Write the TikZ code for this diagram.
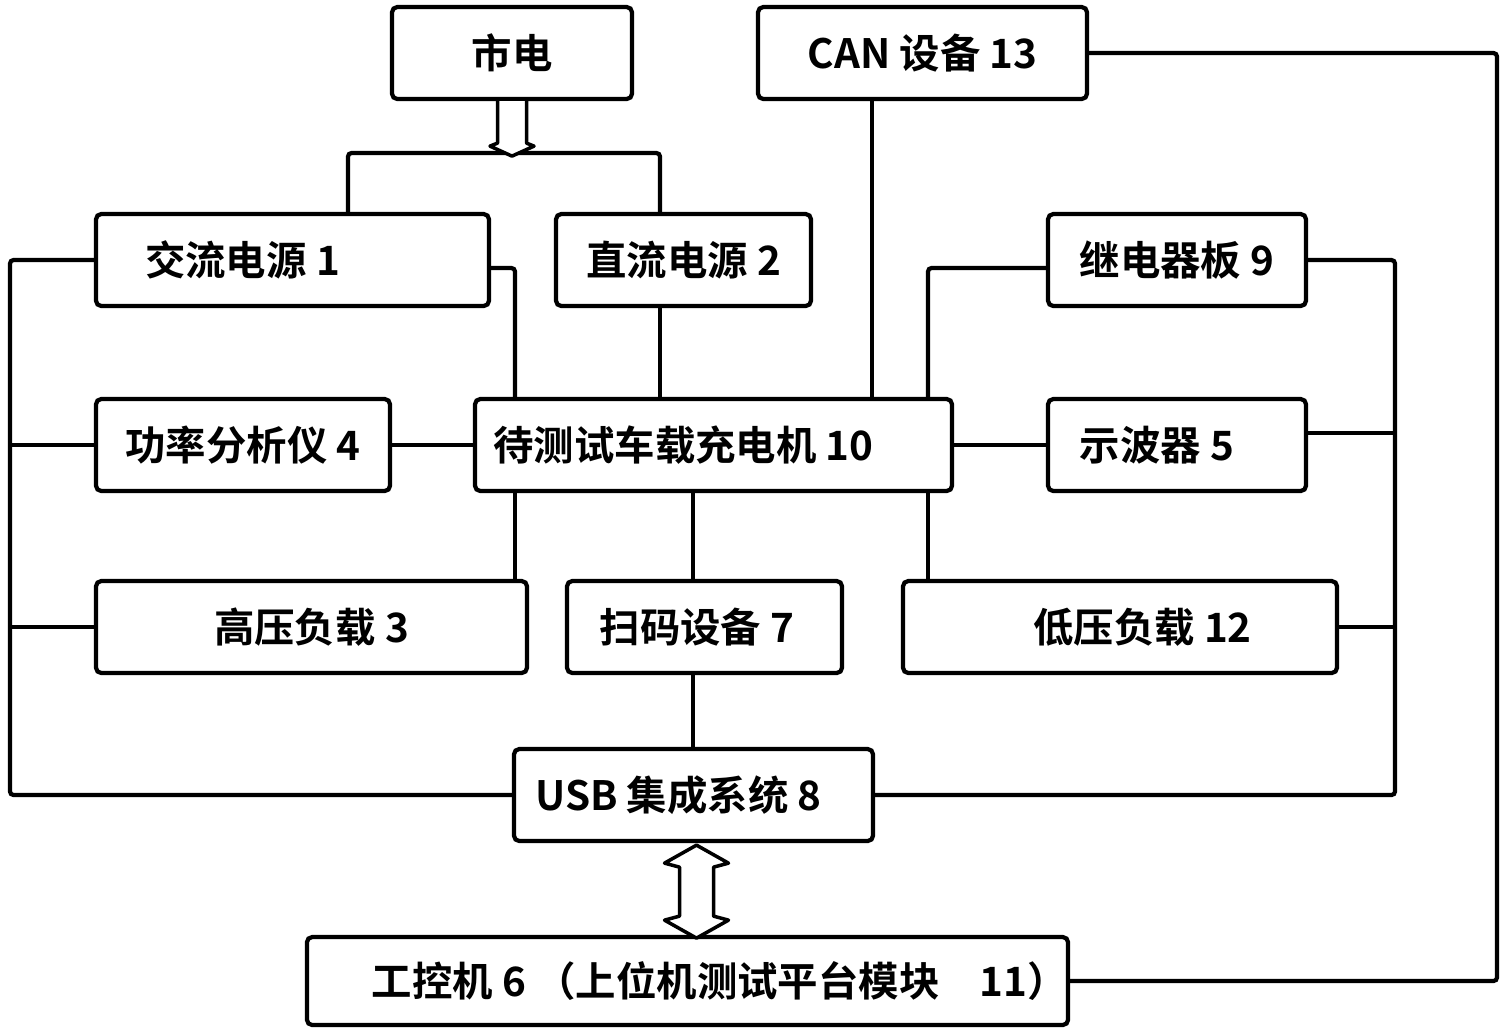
\documentclass[tikz,border=0pt]{standalone}
\usepackage{fontspec}
\setmainfont{Noto Sans CJK SC}[BoldFont={Noto Sans CJK SC Bold}]
\usetikzlibrary{calc}
\tikzset{
  blk/.style={draw, line width=1.2pt, rounded corners=1.5pt, minimum height=0.92cm, inner sep=0pt, font=\fontsize{11.5}{13}\selectfont\bfseries},
  wire/.style={line width=1.2pt, rounded corners=1pt},
  hollow/.style={line width=1pt, fill=white, line join=round}
}

\begin{document}
\begin{tikzpicture}[>=stealth]
\useasboundingbox (0,0) rectangle (15.02,-10.32);
\node[blk, minimum width=2.40cm] (mains) at (5.12,-0.53) {市电};
\node[blk, minimum width=3.29cm] (can) at (9.225,-0.53) {CAN 设备 13};
\node[blk, minimum width=3.93cm] (ac) at (2.925,-2.60) {交流电源 1\hspace*{1cm}};
\node[blk, minimum width=2.55cm] (dc) at (6.835,-2.60) {直流电源 2};
\node[blk, minimum width=2.58cm] (relay) at (11.77,-2.60) {继电器板 9};
\node[blk, minimum width=2.94cm] (pa) at (2.43,-4.45) {功率分析仪 4};
\node[blk, minimum width=4.77cm] (dut) at (7.135,-4.45) {待测试车载充电机 10\hspace*{0.6cm}};
\node[blk, minimum width=2.58cm] (osc) at (11.77,-4.45) {示波器 5\hspace*{0.4cm}};
\node[blk, minimum width=4.31cm] (hv) at (3.115,-6.27) {高压负载 3};
\node[blk, minimum width=2.75cm] (scan) at (7.045,-6.27) {扫码设备 7\hspace*{0.15cm}};
\node[blk, minimum width=4.34cm] (lv) at (11.20,-6.27) {\hspace*{0.45cm}低压负载 12};
\node[blk, minimum width=3.59cm] (usb) at (6.935,-7.95) {USB 集成系统 8\hspace*{0.3cm}};
\node[blk, minimum width=7.55cm, minimum height=0.88cm] (ipc) at (6.875,-9.81) {\hspace*{0.65cm}工控机 6 （上位机测试平台模块\quad 11）};

\coordinate (lbus) at (0.10,0);
\coordinate (rbus) at (13.95,0);
\coordinate (far) at (14.97,0);
\coordinate (c0) at (3.48,-1.53);
\coordinate (c1) at (5.15,-2.68);
\coordinate (c2) at (6.60,0);
\coordinate (c3) at (8.72,0);
\coordinate (c4) at (9.28,-2.68);
\coordinate (c5) at (6.93,0);
\coordinate (oscout) at ([yshift=0.12cm]osc.east);

% mains feed
\draw[wire] (c0 |- ac.north) -- (c0) -| (c2 |- dc.north);
\begin{scope}[shift={(mains.south)}]
\draw[hollow] (-0.145,0) -- (-0.145,-0.42) -- (-0.22,-0.45) -- (0,-0.55) -- (0.22,-0.45) -- (0.145,-0.42) -- (0.145,0);
\end{scope}

% left bus
\draw[wire] (ac.west) -| (lbus |- usb.west) -- (usb.west);
\draw[wire] (pa.west) -- (lbus |- pa.west);
\draw[wire] (hv.west) -- (lbus |- hv.west);

% right bus
\draw[wire] (relay.east) -| (rbus |- usb.east) -- (usb.east);
\draw[wire] (oscout) -- (rbus |- oscout);
\draw[wire] (lv.east) -- (rbus |- lv.east);

% charger links
\draw[wire] (ac.east |- c1) -| (c1 |- dut.north);
\draw[wire] (c2 |- dc.south) -- (c2 |- dut.north);
\draw[wire] (c3 |- can.south) -- (c3 |- dut.north);
\draw[wire] (relay.west |- c4) -| (c4 |- dut.north);
\draw[wire] (pa.east) -- (dut.west);
\draw[wire] (dut.east) -- (osc.west);
\draw[wire] (c1 |- dut.south) -- (c1 |- hv.north);
\draw[wire] (c5 |- dut.south) -- (c5 |- scan.north);
\draw[wire] (c4 |- dut.south) -- (c4 |- lv.north);
\draw[wire] (c5 |- scan.south) -- (c5 |- usb.north);

% CAN to host
\draw[wire] (can.east) -| (far |- ipc.east) -- (ipc.east);

% USB <-> host
\begin{scope}[shift={([xshift=0.03cm]usb.south)}]
\draw[hollow] (0,-0.02) -- (-0.32,-0.20) -- (-0.17,-0.24) -- (-0.17,-0.73) -- (-0.32,-0.77) -- (0,-0.95)
  -- (0.32,-0.77) -- (0.17,-0.73) -- (0.17,-0.24) -- (0.32,-0.20) -- cycle;
\end{scope}
\end{tikzpicture}
\end{document}
